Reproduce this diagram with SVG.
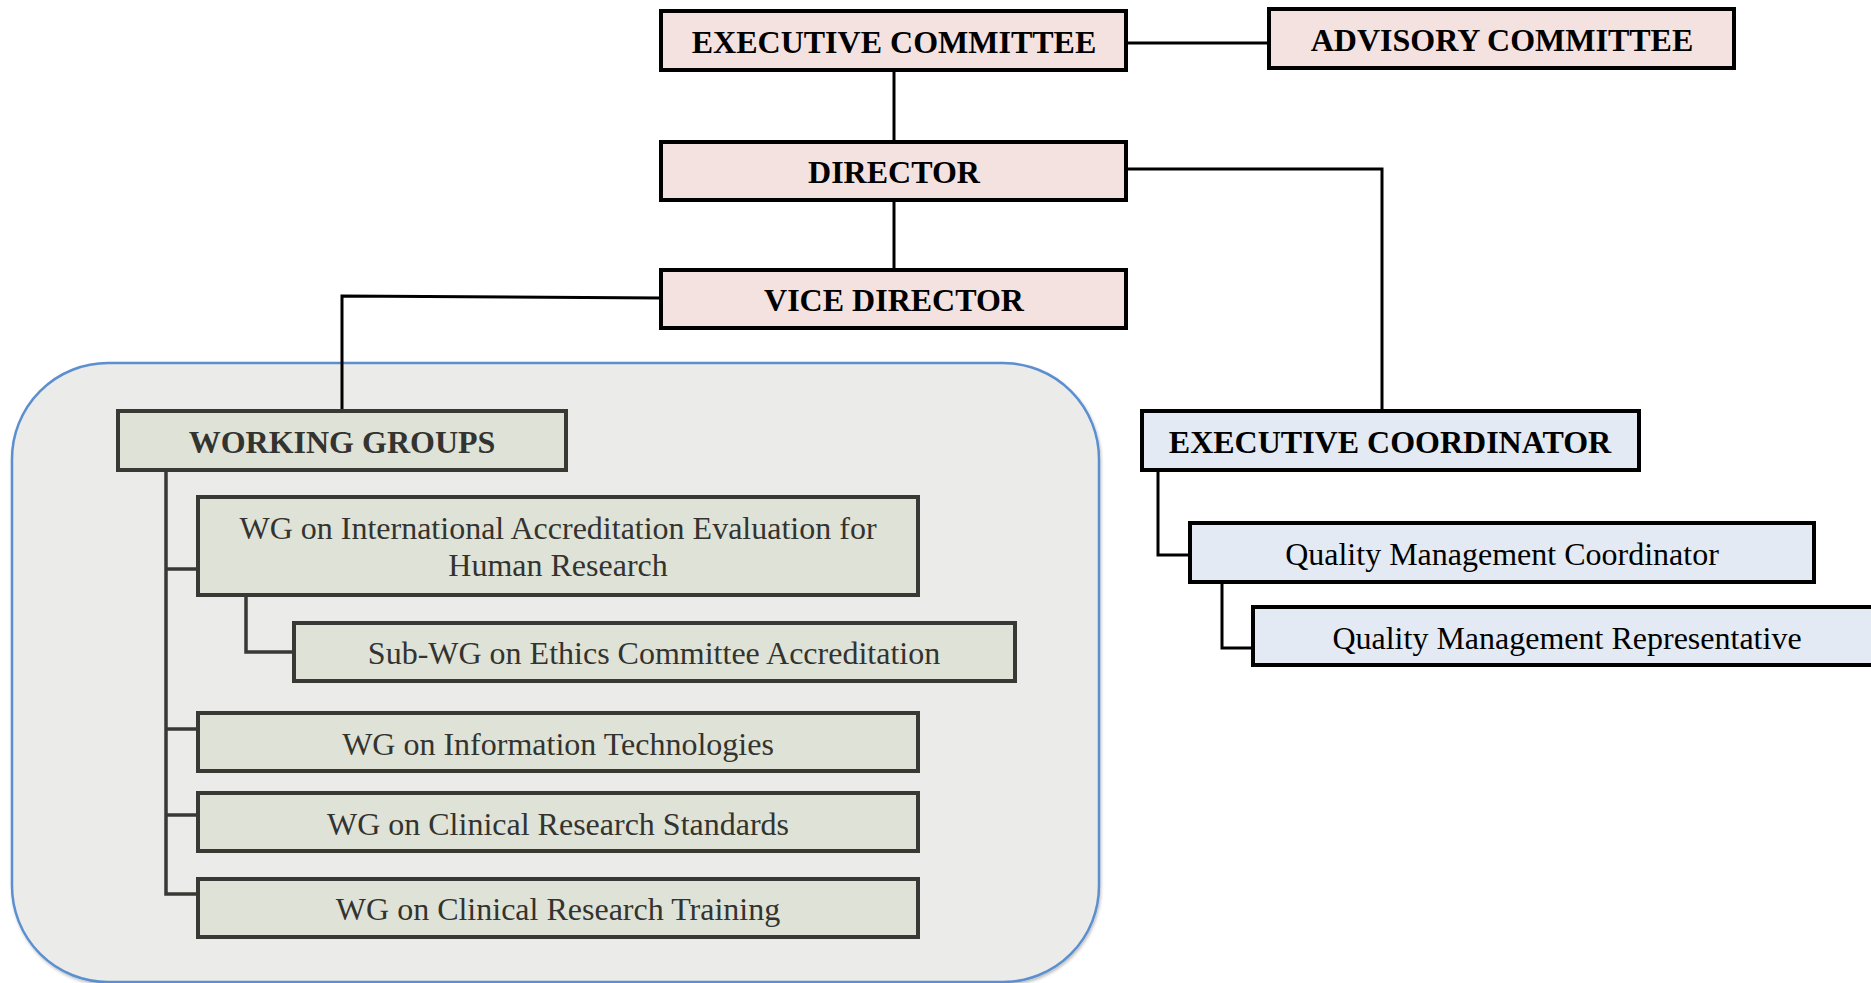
<svg xmlns="http://www.w3.org/2000/svg" width="1871" height="983" viewBox="0 0 1871 983">
<defs>
<style>
.bg{fill:#ebebe9;stroke:#5b8fd0;stroke-width:2.5}
.pink{fill:#f4e2e0;stroke:#000;stroke-width:4}
.blue{fill:#e3eaf3;stroke:#000;stroke-width:4}
.wg{fill:#dfe2d6;stroke:#383835;stroke-width:4}
.ln{fill:none;stroke:#000;stroke-width:3}
.lg{fill:none;stroke:#383835;stroke-width:3.5}
.tb{font-family:"Liberation Serif","Times New Roman",serif;font-weight:bold;font-size:32px;text-anchor:middle;fill:#000}
.tbg{font-family:"Liberation Serif","Times New Roman",serif;font-weight:bold;font-size:32px;text-anchor:middle;fill:#333330}
.tn{font-family:"Liberation Serif","Times New Roman",serif;font-size:32px;text-anchor:middle;fill:#000}
.tng{font-family:"Liberation Serif","Times New Roman",serif;font-size:32px;text-anchor:middle;fill:#333330}
</style>
<filter id="sh" x="-5%" y="-5%" width="110%" height="110%">
<feDropShadow dx="1" dy="2" stdDeviation="1.5" flood-color="#000" flood-opacity="0.25"/>
</filter>
</defs>
<rect id="wg-area" class="bg" x="12" y="363" width="1087" height="619" rx="96" ry="96" filter="url(#sh)"/>
<g id="connectors">
<line class="ln" x1="1126" y1="43" x2="1269" y2="43"/>
<line class="ln" x1="894" y1="70" x2="894" y2="142"/>
<line class="ln" x1="894" y1="200" x2="894" y2="270"/>
<polyline class="ln" points="1126,169 1382,169 1382,411"/>
<polyline class="ln" points="661,298 342,296 342,411"/>
<polyline class="lg" points="166,470 166,894 198,894"/>
<line class="lg" x1="166" y1="569" x2="198" y2="569"/>
<line class="lg" x1="166" y1="729" x2="198" y2="729"/>
<line class="lg" x1="166" y1="815" x2="198" y2="815"/>
<polyline class="lg" points="246,595 246,652 294,652"/>
<polyline class="ln" points="1158,470 1158,555 1190,555"/>
<polyline class="ln" points="1222,582 1222,648 1253,648"/>
</g>
<g id="executive-committee">
<rect class="pink" x="661" y="11" width="465" height="59"/>
<text class="tb" x="894" y="53">EXECUTIVE COMMITTEE</text>
</g>
<g id="advisory-committee">
<rect class="pink" x="1269" y="9" width="465" height="59"/>
<text class="tb" x="1502" y="51">ADVISORY COMMITTEE</text>
</g>
<g id="director">
<rect class="pink" x="661" y="142" width="465" height="58"/>
<text class="tb" x="894" y="183">DIRECTOR</text>
</g>
<g id="vice-director">
<rect class="pink" x="661" y="270" width="465" height="58"/>
<text class="tb" x="894" y="311">VICE DIRECTOR</text>
</g>
<g id="working-groups">
<rect class="wg" x="118" y="411" width="448" height="59"/>
<text class="tbg" x="342" y="453">WORKING GROUPS</text>
</g>
<g id="wg-intl">
<rect class="wg" x="198" y="497" width="720" height="98"/>
<text class="tng" x="558" y="539">WG on International Accreditation Evaluation for</text>
<text class="tng" x="558" y="576">Human Research</text>
</g>
<g id="sub-wg-ethics">
<rect class="wg" x="294" y="623" width="721" height="58"/>
<text class="tng" x="654" y="664">Sub-WG on Ethics Committee Accreditation</text>
</g>
<g id="wg-it">
<rect class="wg" x="198" y="713" width="720" height="58"/>
<text class="tng" x="558" y="755">WG on Information Technologies</text>
</g>
<g id="wg-standards">
<rect class="wg" x="198" y="793" width="720" height="58"/>
<text class="tng" x="558" y="835">WG on Clinical Research Standards</text>
</g>
<g id="wg-training">
<rect class="wg" x="198" y="879" width="720" height="58"/>
<text class="tng" x="558" y="920">WG on Clinical Research Training</text>
</g>
<g id="executive-coordinator">
<rect class="blue" x="1142" y="411" width="497" height="59"/>
<text class="tb" x="1390" y="453">EXECUTIVE COORDINATOR</text>
</g>
<g id="qm-coordinator">
<rect class="blue" x="1190" y="523" width="624" height="59"/>
<text class="tn" x="1502" y="565">Quality Management Coordinator</text>
</g>
<g id="qm-representative">
<rect class="blue" x="1253" y="607" width="640" height="58"/>
<text class="tn" x="1567" y="649">Quality Management Representative</text>
</g>
</svg>
